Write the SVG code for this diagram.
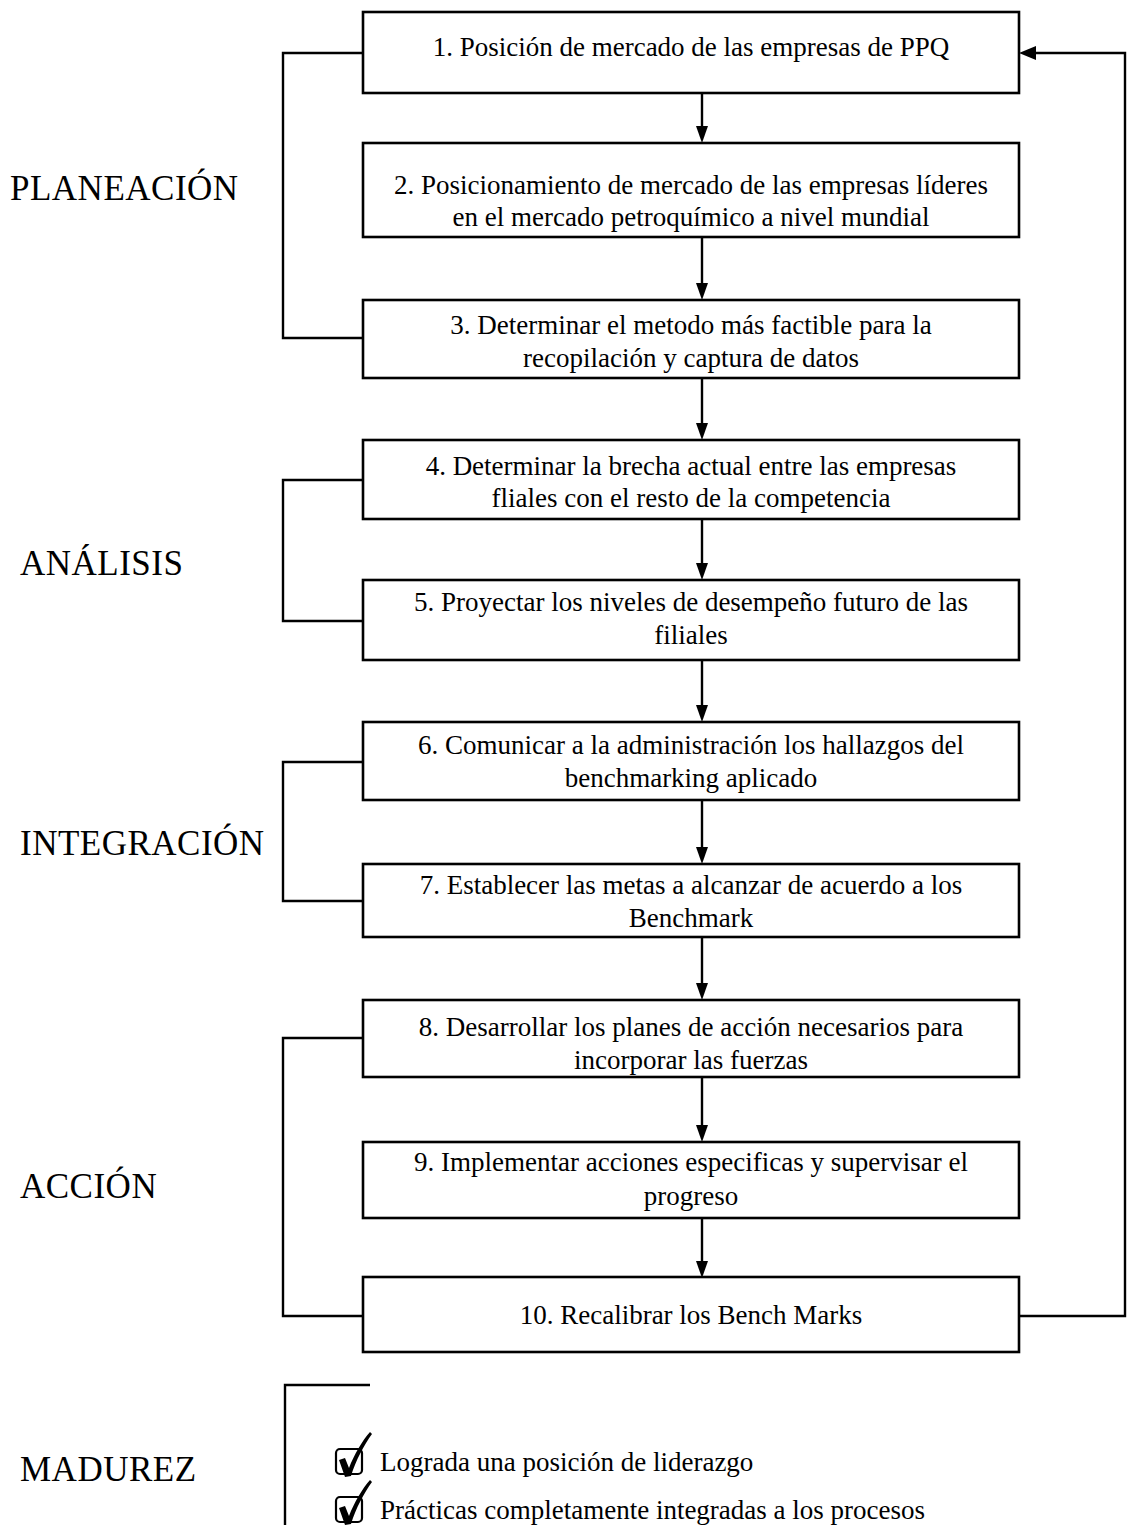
<svg xmlns="http://www.w3.org/2000/svg" width="1128" height="1525" viewBox="0 0 1128 1525">
<style>
.box{fill:#fff;stroke:#000;stroke-width:2.6}
.t{font-family:"Liberation Serif","Times New Roman",serif;font-size:27px;fill:#000;text-anchor:middle}
.lbl{font-family:"Liberation Serif","Times New Roman",serif;font-size:35px;fill:#000;letter-spacing:0.5px}
.ln{fill:none;stroke:#000;stroke-width:2.4}
.ah{fill:#000}
.chk{font-family:"Liberation Serif","Times New Roman",serif;font-size:27px;fill:#000}
</style>
<defs>
<path id="down" d="M-6,-17 L6,-17 L0,0 Z"/>
</defs>
<rect width="1128" height="1525" fill="#fff"/>

<g id="labels">
<text class="lbl" x="10" y="200">PLANEACIÓN</text>
<text class="lbl" x="20" y="575">ANÁLISIS</text>
<text class="lbl" x="20" y="855">INTEGRACIÓN</text>
<text class="lbl" x="20" y="1198">ACCIÓN</text>
<text class="lbl" x="20" y="1481">MADUREZ</text>
</g>

<g id="connectors">
<polyline class="ln" points="363,53 283,53 283,338 363,338"/>
<polyline class="ln" points="363,480 283,480 283,621 363,621"/>
<polyline class="ln" points="363,762 283,762 283,901 363,901"/>
<polyline class="ln" points="363,1038 283,1038 283,1316 363,1316"/>
<polyline class="ln" points="1019,1316 1125,1316 1125,53 1034,53"/>
<path class="ah" d="M1019,53 L1036,46 L1036,60 Z"/>
<line class="ln" x1="702" y1="93" x2="702" y2="128"/>
<use class="ah" href="#down" x="702" y="143"/>
<line class="ln" x1="702" y1="237" x2="702" y2="285"/>
<use class="ah" href="#down" x="702" y="300"/>
<line class="ln" x1="702" y1="378" x2="702" y2="425"/>
<use class="ah" href="#down" x="702" y="440"/>
<line class="ln" x1="702" y1="519" x2="702" y2="565"/>
<use class="ah" href="#down" x="702" y="580"/>
<line class="ln" x1="702" y1="660" x2="702" y2="707"/>
<use class="ah" href="#down" x="702" y="722"/>
<line class="ln" x1="702" y1="800" x2="702" y2="849"/>
<use class="ah" href="#down" x="702" y="864"/>
<line class="ln" x1="702" y1="937" x2="702" y2="985"/>
<use class="ah" href="#down" x="702" y="1000"/>
<line class="ln" x1="702" y1="1077" x2="702" y2="1127"/>
<use class="ah" href="#down" x="702" y="1142"/>
<line class="ln" x1="702" y1="1218" x2="702" y2="1262"/>
<polyline class="ln" points="370,1385 285,1385 285,1525"/>
</g>

<g id="n1"><rect class="box" x="363" y="12" width="656" height="81"/>
<text class="t" x="691" y="56">1. Posición de mercado de las empresas de PPQ</text></g>
<g id="n2"><rect class="box" x="363" y="143" width="656" height="94"/>
<text class="t" x="691" y="194">2. Posicionamiento de mercado de las empresas líderes</text>
<text class="t" x="691" y="226">en el mercado petroquímico a nivel mundial</text></g>
<g id="n3"><rect class="box" x="363" y="300" width="656" height="78"/>
<text class="t" x="691" y="334">3. Determinar el metodo más factible para la</text>
<text class="t" x="691" y="367">recopilación y captura de datos</text></g>
<g id="n4"><rect class="box" x="363" y="440" width="656" height="79"/>
<text class="t" x="691" y="475">4. Determinar la brecha actual entre las empresas</text>
<text class="t" x="691" y="507">fliales con el resto de la competencia</text></g>
<g id="n5"><rect class="box" x="363" y="580" width="656" height="80"/>
<text class="t" x="691" y="611">5. Proyectar los niveles de desempeño futuro de las</text>
<text class="t" x="691" y="644">filiales</text></g>
<g id="n6"><rect class="box" x="363" y="722" width="656" height="78"/>
<text class="t" x="691" y="754">6. Comunicar a la administración los hallazgos del</text>
<text class="t" x="691" y="787">benchmarking aplicado</text></g>
<g id="n7"><rect class="box" x="363" y="864" width="656" height="73"/>
<text class="t" x="691" y="894">7. Establecer las metas a alcanzar de acuerdo a los</text>
<text class="t" x="691" y="927">Benchmark</text></g>
<g id="n8"><rect class="box" x="363" y="1000" width="656" height="77"/>
<text class="t" x="691" y="1036">8. Desarrollar los planes de acción necesarios para</text>
<text class="t" x="691" y="1069">incorporar las fuerzas</text></g>
<g id="n9"><rect class="box" x="363" y="1142" width="656" height="76"/>
<text class="t" x="691" y="1171">9. Implementar acciones especificas y supervisar el</text>
<text class="t" x="691" y="1205">progreso</text></g>
<g id="n10"><rect class="box" x="363" y="1277" width="656" height="75"/>
<text class="t" x="691" y="1324">10. Recalibrar los Bench Marks</text></g>
<use class="ah" href="#down" x="702" y="1278"/>

<g id="madurez">
<rect x="336" y="1449" width="26" height="25" rx="4" fill="none" stroke="#000" stroke-width="2.2"/>
<path d="M339,1460 L345,1458 L349,1468 C354,1455 362,1441 370,1432 L372,1434 C364,1445 356,1460 351,1476 L345,1477 Z" fill="#000"/>
<text class="chk" x="380" y="1471">Lograda una posición de liderazgo</text>
<rect x="336" y="1497" width="26" height="25" rx="4" fill="none" stroke="#000" stroke-width="2.2"/>
<path d="M339,1508 L345,1506 L349,1516 C354,1503 362,1489 370,1480 L372,1482 C364,1493 356,1508 351,1524 L345,1525 Z" fill="#000"/>
<text class="chk" x="380" y="1519">Prácticas completamente integradas a los procesos</text>
</g>
</svg>
